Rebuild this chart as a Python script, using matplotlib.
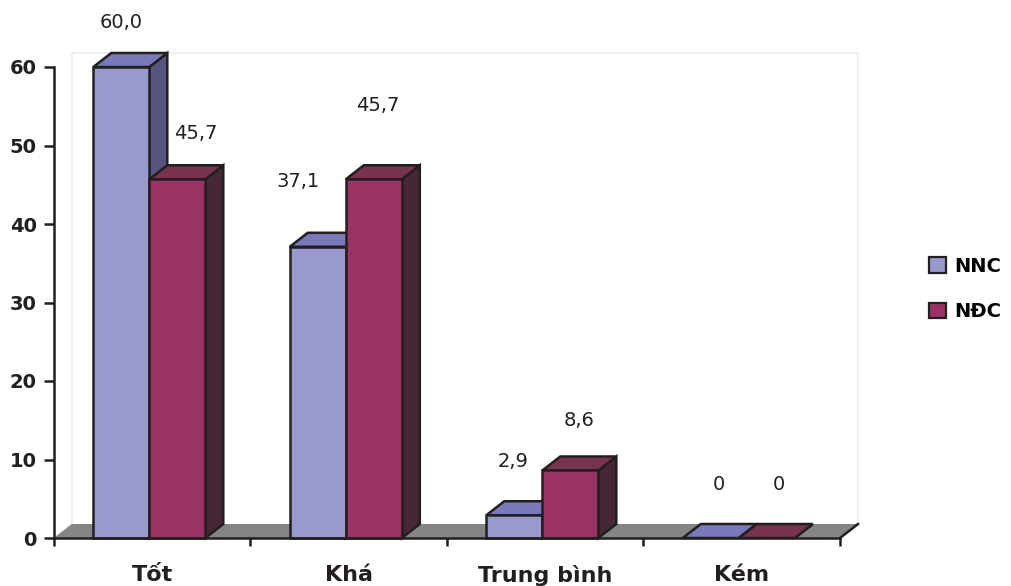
import matplotlib
matplotlib.use("Agg")
import matplotlib.pyplot as plt
from matplotlib.patches import Polygon, Patch
import numpy as np

categories = ["Tốt", "Khá", "Trung bình", "Kém"]
series = ["NNC", "NĐC"]
nnc = [60.0, 37.1, 2.9, 0.0]
ndc = [45.7, 45.7, 8.6, 0.0]
nnc_labels = ["60,0", "37,1", "2,9", "0"]
ndc_labels = ["45,7", "45,7", "8,6", "0"]

# label nudges (pixels) from the centre of each bar's front top edge
nnc_nudge = [(0, 39), (-20, 60), (-1, 48), (8, 48)]
ndc_nudge = [(18, 40), (4, 68), (9, 44), (12, 48)]

# face colours: front, top, side
colors = {
    "NNC": ("#9999cc", "#7a7abb", "#55557f"),
    "NĐC": ("#993366", "#77334f", "#472636"),
}
edge = "#231f20"

W, H = 1011, 586
fig = plt.figure(figsize=(W / 100, H / 100), dpi=100)
x0_px, x1_px, y0_px, y1_px = 54, 840, 538, 67
ax = fig.add_axes([x0_px / W, 1 - y0_px / H, (x1_px - x0_px) / W, (y0_px - y1_px) / H])
ax.set_xlim(0, 4)
ax.set_ylim(0, 60)

# depth offset of the fake 3D boxes, in data units
dx = 18 / ((x1_px - x0_px) / 4)
dy = 14 / ((y0_px - y1_px) / 60)

# back wall outline and grey floor
ax.plot([dx, dx, 4 + dx, 4 + dx], [dy, 60 + dy, 60 + dy, dy], color="#ececec",
        lw=1.2, clip_on=False, zorder=1)
ax.plot([0, dx], [0, dy], color="#e4e4e4", lw=1.0, clip_on=False, zorder=1)
floor = Polygon([(0, 0), (4, 0), (4 + dx, dy), (dx, dy)], closed=True,
                facecolor="#838587", edgecolor="none", clip_on=False, zorder=2)
ax.add_patch(floor)
ax.plot([4, 4 + dx], [0, dy], color=edge, lw=1.8, clip_on=False, zorder=2.5)


def box(x, w, h, cols, z):
    front, top, side = cols
    kw = dict(closed=True, edgecolor=edge, lw=1.8, joinstyle="miter",
              clip_on=False, zorder=z)
    ax.add_patch(Polygon([(x + w, 0), (x + w + dx, dy), (x + w + dx, h + dy),
                          (x + w, h)], facecolor=side, **kw))
    ax.add_patch(Polygon([(x, h), (x + w, h), (x + w + dx, h + dy),
                          (x + dx, h + dy)], facecolor=top, **kw))
    if h > 0:
        ax.add_patch(Polygon([(x, 0), (x + w, 0), (x + w, h), (x, h)],
                             facecolor=front, **kw))


bw = 0.285
start = 0.2
for i in range(len(categories)):
    for j, (name, vals, labs, nudge) in enumerate(
            [("NNC", nnc, nnc_labels, nnc_nudge), ("NĐC", ndc, ndc_labels, ndc_nudge)]):
        x = i + start + j * bw
        box(x, bw, vals[i], colors[name], 3 + i * 2 + j)
        ax.annotate(labs[i], (x + bw / 2, vals[i]), xytext=nudge[i],
                    textcoords="offset pixels", ha="center", va="baseline",
                    fontsize=14, color="#231f20", annotation_clip=False)

# axes styling
for s in ["top", "right"]:
    ax.spines[s].set_visible(False)
for s in ["left", "bottom"]:
    ax.spines[s].set_color(edge)
    ax.spines[s].set_linewidth(1.8)
    ax.spines[s].set_zorder(20)
ax.set_yticks(np.arange(0, 61, 10))
ax.set_yticklabels([str(v) for v in range(0, 61, 10)], fontsize=14,
                   fontweight="bold", color=edge)
ax.tick_params(axis="y", length=7.5, width=1.8, color=edge, pad=5)
ax.set_xticks(np.arange(0, 5))
ax.set_xticklabels([])
ax.tick_params(axis="x", which="major", length=5.5, width=1.8, color=edge)
ax.set_xticks(np.arange(len(categories)) + 0.5, minor=True)
ax.set_xticklabels(categories, minor=True, fontsize=16, fontweight="bold",
                   color=edge)
ax.tick_params(axis="x", which="minor", length=0, pad=19.5)
ax.patch.set_visible(False)

handles = [Patch(facecolor=colors[s][0], edgecolor=edge, lw=1.6) for s in series]
fig.legend(handles, series, loc="center left",
           bbox_to_anchor=(929 / W, 1 - 289 / H), frameon=False,
           prop={"weight": "bold", "size": 14}, handlelength=0.85,
           handleheight=0.85, handletextpad=0.45, labelspacing=1.35,
           borderpad=0, borderaxespad=0)

fig.savefig("out.png", dpi=100)
